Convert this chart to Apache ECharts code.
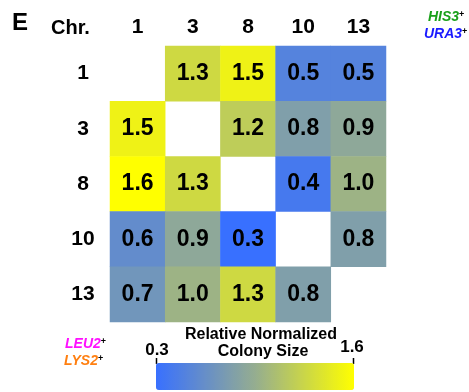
<!DOCTYPE html>
<html>
<head>
<meta charset="utf-8">
<script src="https://cdn.jsdelivr.net/npm/echarts@6/dist/echarts.min.js"></script>
<style>
  html, body { margin: 0; padding: 0; background: #fff; }
  #chart { width: 469px; height: 392px; }
</style>
</head>
<body>
<div id="chart"></div>
<script>
// Chromosome pairs (columns and rows share the same list)
const chromosomes = ['1', '3', '8', '10', '13'];

// Relative normalized colony size, one row per chromosome (null = diagonal)
const row1  = [null, 1.3, 1.5, 0.5, 0.5];
const row3  = [1.5, null, 1.2, 0.8, 0.9];
const row8  = [1.6, 1.3, null, 0.4, 1.0];
const row10 = [0.6, 0.9, 0.3, null, 0.8];
const row13 = [0.7, 1.0, 1.3, 0.8, null];
const rows = [row1, row3, row8, row10, row13];

// Colour scale range and its tick labels
const scaleMin = 0.3;
const scaleMax = 1.6;
const scaleTicks = ['0.3', '1.6'];

// Marker legends
const markersTop = [{ text: 'HIS3', color: '#1aa01a' }, { text: 'URA3', color: '#1a1aff' }];
const markersBottom = [{ text: 'LEU2', color: '#ff10ff' }, { text: 'LYS2', color: '#ff7f10' }];

const cells = [];
rows.forEach((vals, r) => {
  vals.forEach((v, c) => {
    if (v !== null) cells.push([c, r, v]);
  });
});

const sans = '"Liberation Sans", Arial, sans-serif';

const chart = echarts.init(document.getElementById('chart'), null, { renderer: 'canvas' });

function markerText(m, x, y, size) {
  return {
    type: 'text', left: x, top: y,
    style: {
      rich: {
        g: { fontFamily: sans, fontStyle: 'italic', fontWeight: 'bold', fontSize: size, fill: m.color },
        p: { fontFamily: sans, fontWeight: 'bold', fontSize: 9, fill: '#000', verticalAlign: 'top', padding: [0, 0, 6, 0] }
      },
      text: '{g|' + m.text + '}{p|+}'
    }
  };
}

chart.setOption({
  animation: false,
  backgroundColor: '#fff',
  grid: { left: 110, right: 83, top: 46, bottom: 70 },
  xAxis: {
    type: 'category',
    data: chromosomes,
    position: 'top',
    axisLine: { show: false },
    axisTick: { show: false },
    splitArea: { show: false },
    axisLabel: { fontFamily: sans, fontWeight: 'bold', fontSize: 21, color: '#000', margin: 8 }
  },
  yAxis: {
    type: 'category',
    data: chromosomes,
    inverse: true,
    axisLine: { show: false },
    axisTick: { show: false },
    axisLabel: { fontFamily: sans, fontWeight: 'bold', fontSize: 21, color: '#000', margin: 27, align: 'center' }
  },
  visualMap: {
    type: 'continuous',
    min: scaleMin,
    max: scaleMax,
    orient: 'horizontal',
    left: 156,
    top: 363,
    itemWidth: 27,
    itemHeight: 198,
    calculable: false,
    showLabel: false,
    text: null,
    padding: 0,
    inRange: { color: ['#3870ff', '#95ad90', '#ffff00'] }
  },
  series: [{
    type: 'heatmap',
    data: cells,
    label: {
      show: true,
      fontFamily: sans,
      fontWeight: 'bold',
      fontSize: 23,
      color: '#000',
      formatter: p => p.value[2].toFixed(1)
    },
    itemStyle: { borderWidth: 0 },
    emphasis: { disabled: true }
  }],
  graphic: [
    { type: 'text', left: 12, top: 11, style: { text: 'E', fontFamily: sans, fontWeight: 'bold', fontSize: 24, fill: '#000' } },
    { type: 'text', left: 51, top: 18, style: { text: 'Chr.', fontFamily: sans, fontWeight: 'bold', fontSize: 20, fill: '#000' } },
    markerText(markersTop[0], 428, 10, 14),
    markerText(markersTop[1], 424, 27, 14),
    markerText(markersBottom[0], 65, 337, 14),
    markerText(markersBottom[1], 64, 354, 14),
    { type: 'text', x: 261, y: 335, style: { text: 'Relative Normalized', fontFamily: sans, fontWeight: 'bold', fontSize: 16, fill: '#000', align: 'center', verticalAlign: 'middle' } },
    { type: 'text', x: 263, y: 352, style: { text: 'Colony Size', fontFamily: sans, fontWeight: 'bold', fontSize: 16, fill: '#000', align: 'center', verticalAlign: 'middle' } },
    { type: 'text', x: 157, y: 350, style: { text: scaleTicks[0], fontFamily: sans, fontWeight: 'bold', fontSize: 17, fill: '#000', align: 'center', verticalAlign: 'middle' } },
    { type: 'text', x: 352, y: 347, style: { text: scaleTicks[1], fontFamily: sans, fontWeight: 'bold', fontSize: 17, fill: '#000', align: 'center', verticalAlign: 'middle' } },
    { type: 'line', shape: { x1: 156.5, y1: 358, x2: 156.5, y2: 364 }, style: { stroke: '#000', lineWidth: 1.5 } },
    { type: 'line', shape: { x1: 353.5, y1: 358, x2: 353.5, y2: 364 }, style: { stroke: '#000', lineWidth: 1.5 } }
  ]
});
</script>
</body>
</html>
